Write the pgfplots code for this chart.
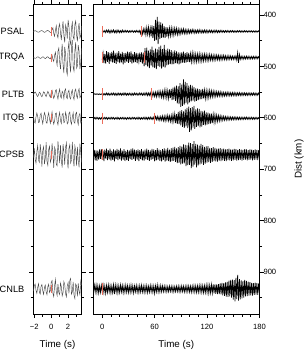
\documentclass[border=0pt]{standalone}
\usepackage{fontspec}
\setmainfont{Liberation Sans}
\usepackage{pgfplots}
\usepackage{pgfplotstable}
\pgfplotsset{compat=1.18}
\definecolor{pick}{RGB}{236,110,92}
\definecolor{wave}{RGB}{72,72,72}

% zoomed windows, -2.1 .. 3.6 s (amplitudes in km about each station's distance)
\pgfplotstableread{
t a b c d e f
-2.1 0.3 -0.5 1.5 -4.5 5.6 4.2
-2.0 -0.8 0.6 -2.8 6.8 -12.4 -6.8
-1.9 -1.5 1.4 -4.2 9.2 8.2 -9.5
-1.8 -0.9 0.9 -1.6 -2.6 16.5 2.5
-1.7 0.4 -0.7 2.4 -10.4 -6.8 8.6
-1.6 1.3 -1.6 4.5 -3.8 -18.2 -3.4
-1.5 1.6 -1.2 1.2 8.5 10.4 -10.2
-1.4 0.8 0.3 -3.6 7.2 14.6 6.4
-1.3 -0.5 1.5 -2.2 -6.4 -20.5 9.8
-1.2 -1.4 1.1 2.8 -9.8 -3.2 -5.2
-1.1 -1.7 -0.4 5.2 2.4 22.8 -8.4
-1.0 -0.6 -1.7 0.8 10.6 -8.6 3.6
-0.9 0.9 -1.0 -4.6 -1.8 -15.4 10.5
-0.8 1.8 0.8 -3.2 -11.2 18.2 -2.8
-0.7 1.2 1.9 1.9 -5.5 6.4 -7.6
-0.6 -0.3 0.6 4.8 7.8 -24.6 5.8
-0.5 -1.6 -1.3 -0.6 9.6 12.5 11.2
-0.4 -2.0 -1.8 -5.4 -4.2 20.4 -4.6
-0.3 -0.8 0.2 -2.5 -10.8 -10.2 -9.2
-0.2 0.7 1.6 3.1 1.6 -16.8 6.8
-0.1 1.9 2.4 6.2 9.8 14.2 3.4
0.0 2.6 -1.8 -2.8 -2.5 8.6 -12.6
0.1 -3.5 -5.2 -7.5 -12.6 -22.2 -16.4
0.2 -6.8 3.6 1.4 3.4 -4.5 8.2
0.3 4.2 7.4 8.2 11.5 25.6 14.8
0.4 9.5 -4.8 3.5 4.8 -14.8 -6.2
0.5 -2.4 -10.6 -6.4 -8.6 -9.2 -18.5
0.6 -11.2 5.2 -8.8 -10.5 18.6 4.8
0.7 6.8 14.8 2.6 6.2 21.4 12.6
0.8 12.4 -12.4 9.4 12.8 -26.2 -9.4
0.9 -8.5 -18.6 -3.2 -3.6 -7.8 7.2
1.0 -14.6 8.4 -9.6 -11.4 16.4 10.8
1.1 3.2 22.5 4.8 5.2 -18.8 -11.6
1.2 16.8 -6.2 7.5 10.2 12.2 -4.2
1.3 -5.4 -26.8 -5.6 -7.4 24.8 13.5
1.4 -19.5 14.5 -2.4 -9.6 -20.6 6.8
1.5 8.6 30.2 8.6 8.4 -5.4 -14.2
1.6 21.2 -20.8 -6.8 6.6 19.2 -8.6
1.7 -12.8 -8.6 -10.2 -11.8 -14.6 9.4
1.8 -6.4 24.7 5.4 -4.5 -23.4 15.2
1.9 14.2 33.5 8.8 10.8 8.8 -5.8
2.0 -22.6 -16.2 -4.2 8.2 26.5 -12.4
2.1 -9.8 -31.4 -7.6 -9.4 -12.2 8.6
2.2 18.5 12.6 6.5 -12.2 -19.6 -16.8
2.3 24.3 28.8 9.2 5.6 15.8 -20.4
2.4 -7.2 -22.4 -3.8 11.6 10.4 10.2
2.5 -17.6 -34.6 -8.4 -2.8 -25.2 5.6
2.6 10.4 18.2 4.6 -10.6 6.2 -13.8
2.7 15.8 26.4 10.5 7.2 22.6 12.4
2.8 -13.5 -14.5 -6.2 9.4 -17.4 18.6
2.9 -20.2 -29.8 -9.8 -8.2 -8.5 -9.6
3.0 6.5 20.6 3.5 -11.5 20.8 -6.2
3.1 19.4 16.2 7.8 4.6 -15.6 14.4
3.2 -4.8 -24.5 -5.4 12.4 11.2 -10.8
3.3 -16.3 -12.8 -10.6 -6.5 24.2 4.6
3.4 12.6 22.4 6.8 -9.2 -21.8 11.2
3.5 8.2 9.6 4.2 8.8 -4.6 -15.8
3.6 -10.5 -18.2 -7.5 5.2 14.8 -7.4
}\zoomtab

\pgfplotstableread[row sep=\\]{t a\\
0 0.5\\1 -1.2\\2 1.5\\3 -1.8\\4 2.2\\5 -2.5\\6 1.4\\7 -2.8\\8 2.6\\9 -1.9\\
10 2.7\\11 -2.2\\12 1.6\\13 -2.9\\14 2.4\\15 -1.5\\16 2.8\\17 -2.6\\18 1.9\\19 -2.3\\
20 2.5\\21 -1.4\\22 2.1\\23 -2.7\\24 1.6\\25 -1.8\\26 1.5\\27 -2.0\\28 1.2\\29 -1.7\\
30 1.9\\31 -1.3\\32 1.6\\33 -1.8\\34 1.1\\35 -1.6\\36 1.8\\37 -1.2\\38 1.5\\39 -1.9\\
40 1.4\\41 -1.6\\42 2.0\\43 -1.8\\44 4.5\\45 -3.8\\46 5.2\\47 -4.6\\48 3.9\\49 -5.5\\
50 6.8\\51 -7.5\\52 5.9\\53 -8.2\\54 7.4\\55 -6.3\\56 9.5\\57 -11.8\\58 13.2\\59 -10.5\\
60 18.5\\61 -22.4\\62 16.8\\63 -28.5\\64 24.6\\65 -19.2\\66 14.8\\67 -17.6\\68 12.5\\69 -15.3\\
70 11.8\\71 -9.6\\72 12.4\\73 -8.5\\74 10.2\\75 -7.8\\76 9.4\\77 -6.5\\78 8.2\\79 -7.1\\
80 6.8\\81 -5.4\\82 7.5\\83 -6.2\\84 5.1\\85 -5.8\\86 6.3\\87 -4.7\\88 5.5\\89 -4.2\\
90 5.0\\91 -4.5\\92 3.8\\93 -4.9\\94 4.2\\95 -3.6\\96 4.4\\97 -3.2\\98 3.9\\99 -3.5\\
100 3.6\\101 -2.9\\102 3.4\\103 -3.8\\104 2.7\\105 -3.2\\106 3.5\\107 -2.6\\108 3.1\\109 -2.8\\
110 2.9\\111 -3.3\\112 2.4\\113 -2.7\\114 3.0\\115 -2.2\\116 2.6\\117 -2.9\\118 2.3\\119 -2.5\\
120 2.8\\121 -2.1\\122 2.4\\123 -2.6\\124 2.0\\125 -2.3\\126 2.5\\127 -1.9\\128 2.2\\129 -2.4\\
130 1.9\\131 -2.2\\132 2.3\\133 -1.7\\134 2.0\\135 -2.1\\136 1.6\\137 -2.0\\138 1.8\\139 -1.5\\
140 1.9\\141 -1.7\\142 1.5\\143 -1.8\\144 1.6\\145 -1.4\\146 1.8\\147 -1.6\\148 1.3\\149 -1.7\\
150 1.5\\151 -1.4\\152 1.7\\153 -1.3\\154 1.6\\155 -1.5\\156 1.2\\157 -1.6\\158 1.4\\159 -1.3\\
160 1.5\\161 -1.2\\162 1.4\\163 -1.5\\164 1.1\\165 -1.3\\166 1.5\\167 -1.2\\168 1.3\\169 -1.4\\
170 1.2\\171 -1.3\\172 1.4\\173 -1.1\\174 1.3\\175 -1.2\\176 1.4\\177 -1.0\\178 1.2\\179 -1.3\\180 0.8\\
}\psal

\pgfplotstableread[row sep=\\]{t a\\
0 4.5\\1 -9.2\\2 10.8\\3 -7.5\\4 11.6\\5 -12.4\\6 8.3\\7 -10.6\\8 12.1\\9 -9.4\\
10 7.8\\11 -11.3\\12 9.6\\13 -13.5\\14 10.2\\15 -8.1\\16 11.9\\17 -9.8\\18 8.7\\19 -12.6\\
20 10.4\\21 -7.9\\22 9.2\\23 -11.0\\24 12.8\\25 -8.6\\26 10.1\\27 -9.3\\28 7.6\\29 -11.7\\
30 9.9\\31 -10.5\\32 8.2\\33 -12.2\\34 11.4\\35 -7.4\\36 9.7\\37 -10.9\\38 8.5\\39 -9.1\\
40 10.6\\41 -8.3\\42 7.9\\43 -9.6\\44 8.8\\45 -10.2\\46 11.5\\47 -9.7\\48 16.8\\49 -18.4\\
50 14.6\\51 -19.5\\52 17.2\\53 -13.8\\54 20.3\\55 -16.1\\56 15.4\\57 -21.6\\58 18.7\\59 -14.2\\
60 19.8\\61 -17.5\\62 22.4\\63 -15.9\\64 16.7\\65 -20.8\\66 18.3\\67 -23.5\\68 21.2\\69 -16.4\\
70 17.9\\71 -24.6\\72 19.5\\73 -15.2\\74 14.8\\75 -17.3\\76 13.6\\77 -16.2\\78 12.4\\79 -14.5\\
80 13.1\\81 -11.6\\82 12.8\\83 -13.9\\84 10.5\\85 -12.2\\86 11.8\\87 -10.1\\88 12.9\\89 -9.8\\
90 11.2\\91 -10.4\\92 9.5\\93 -11.8\\94 10.3\\95 -8.9\\96 9.8\\97 -10.6\\98 8.4\\99 -9.2\\
100 8.8\\101 -7.6\\102 8.3\\103 -9.1\\104 7.2\\105 -8.0\\106 7.7\\107 -6.8\\108 7.9\\109 -7.1\\
110 6.6\\111 -7.4\\112 6.9\\113 -6.2\\114 7.0\\115 -5.8\\116 6.4\\117 -6.7\\118 5.5\\119 -6.1\\
120 5.9\\121 -5.2\\122 5.6\\123 -6.0\\124 4.8\\125 -5.4\\126 5.1\\127 -4.6\\128 5.3\\129 -4.9\\
130 4.4\\131 -4.8\\132 4.2\\133 -4.5\\134 4.7\\135 -3.9\\136 4.3\\137 -4.1\\138 3.8\\139 -4.4\\
140 3.9\\141 -3.6\\142 4.1\\143 -3.4\\144 3.7\\145 -3.8\\146 3.3\\147 -3.5\\148 3.6\\149 -3.1\\
150 3.4\\151 -3.0\\152 3.2\\153 -3.5\\154 4.8\\155 -9.5\\156 10.2\\157 -6.1\\158 3.2\\159 -2.8\\
160 2.9\\161 -2.6\\162 3.0\\163 -2.5\\164 2.7\\165 -2.8\\166 2.4\\167 -2.6\\168 2.5\\169 -2.2\\
170 2.6\\171 -2.3\\172 2.4\\173 -2.5\\174 2.2\\175 -2.4\\176 2.1\\177 -2.3\\178 2.2\\179 -2.0\\180 1.5\\
}\trqa

\pgfplotstableread[row sep=\\]{t a\\
-10 0.4\\-9 -0.7\\-8 0.6\\-7 -0.8\\-6 0.5\\-5 -0.6\\-4 0.8\\-3 -0.5\\-2 0.7\\-1 -0.6\\
0 0.9\\1 -1.4\\2 1.8\\3 -1.2\\4 1.6\\5 -2.1\\6 1.5\\7 -1.7\\8 2.0\\9 -1.3\\
10 1.7\\11 -1.9\\12 1.4\\13 -2.2\\14 1.8\\15 -1.5\\16 2.3\\17 -1.6\\18 1.9\\19 -2.0\\
20 1.5\\21 -1.8\\22 2.1\\23 -1.4\\24 1.7\\25 -2.3\\26 1.6\\27 -1.9\\28 2.2\\29 -1.5\\
30 1.8\\31 -2.0\\32 1.6\\33 -1.7\\34 2.4\\35 -1.5\\36 1.9\\37 -2.1\\38 1.4\\39 -1.8\\
40 2.0\\41 -1.6\\42 1.8\\43 -2.2\\44 1.5\\45 -1.9\\46 2.3\\47 -1.7\\48 2.1\\49 -2.4\\
50 1.9\\51 -2.6\\52 2.8\\53 -2.2\\54 2.5\\55 -3.0\\56 3.8\\57 -3.2\\58 4.1\\59 -3.6\\
60 4.4\\61 -3.9\\62 5.2\\63 -4.6\\64 4.0\\65 -5.5\\66 4.8\\67 -5.1\\68 6.2\\69 -5.4\\
70 6.8\\71 -7.5\\72 5.9\\73 -8.1\\74 7.2\\75 -6.6\\76 8.4\\77 -9.2\\78 7.8\\79 -10.1\\
80 11.5\\81 -12.8\\82 10.4\\83 -14.6\\84 13.2\\85 -16.5\\86 17.8\\87 -15.2\\88 19.6\\89 -21.4\\
90 24.5\\91 -18.6\\92 22.8\\93 -28.7\\94 20.4\\95 -23.6\\96 17.5\\97 -21.2\\98 19.8\\99 -16.4\\
100 15.8\\101 -17.9\\102 14.2\\103 -16.6\\104 12.5\\105 -13.8\\106 14.6\\107 -11.2\\108 12.9\\109 -10.6\\
110 11.4\\111 -9.5\\112 10.2\\113 -8.8\\114 9.6\\115 -10.4\\116 8.2\\117 -7.9\\118 8.7\\119 -7.1\\
120 7.6\\121 -6.5\\122 6.9\\123 -7.2\\124 5.8\\125 -6.3\\126 5.4\\127 -5.9\\128 4.8\\129 -5.2\\
130 4.6\\131 -4.9\\132 4.2\\133 -4.4\\134 3.9\\135 -4.5\\136 3.7\\137 -3.8\\138 4.1\\139 -3.4\\
140 3.6\\141 -3.3\\142 3.5\\143 -3.8\\144 3.0\\145 -3.4\\146 3.2\\147 -2.9\\148 3.3\\149 -3.1\\
150 2.8\\151 -3.2\\152 2.9\\153 -2.6\\154 3.0\\155 -2.7\\156 2.5\\157 -2.9\\158 2.6\\159 -2.4\\
160 2.7\\161 -2.5\\162 2.3\\163 -2.6\\164 2.4\\165 -2.2\\166 2.5\\167 -2.3\\168 2.1\\169 -2.4\\
170 2.3\\171 -2.0\\172 2.2\\173 -2.4\\174 2.0\\175 -2.1\\176 2.3\\177 -1.9\\178 2.1\\179 -2.2\\180 1.6\\
}\pltb

\pgfplotstableread[row sep=\\]{t a\\
-10 1.2\\-9 -1.6\\-8 1.4\\-7 -1.9\\-6 1.1\\-5 -1.5\\-4 1.8\\-3 -1.3\\-2 1.6\\-1 -1.4\\
0 1.7\\1 -1.2\\2 1.5\\3 -1.8\\4 1.3\\5 -1.6\\6 2.0\\7 -1.4\\8 1.2\\9 -1.7\\
10 1.5\\11 -1.9\\12 1.3\\13 -1.6\\14 1.8\\15 -1.1\\16 1.4\\17 -2.1\\18 1.6\\19 -1.3\\
20 1.9\\21 -1.5\\22 1.2\\23 -1.7\\24 1.4\\25 -1.8\\26 1.6\\27 -1.2\\28 2.2\\29 -1.5\\
30 1.3\\31 -1.6\\32 1.8\\33 -1.4\\34 1.5\\35 -1.9\\36 1.2\\37 -1.6\\38 1.7\\39 -1.3\\
40 1.6\\41 -2.0\\42 1.4\\43 -1.5\\44 1.9\\45 -1.3\\46 1.7\\47 -1.8\\48 1.5\\49 -2.1\\
50 1.8\\51 -1.6\\52 2.2\\53 -1.9\\54 1.7\\55 -2.3\\56 2.0\\57 -1.8\\58 2.4\\59 -2.1\\
60 2.9\\61 -3.4\\62 2.6\\63 -3.8\\64 3.2\\65 -2.8\\66 4.1\\67 -3.5\\68 3.7\\69 -4.4\\
70 4.8\\71 -4.0\\72 5.3\\73 -4.6\\74 4.2\\75 -5.7\\76 5.0\\77 -4.5\\78 6.2\\79 -5.4\\
80 6.8\\81 -7.4\\82 6.1\\83 -8.5\\84 9.2\\85 -8.0\\86 10.6\\87 -12.4\\88 11.5\\89 -14.2\\
90 13.6\\91 -15.8\\92 16.4\\93 -13.2\\94 18.5\\95 -17.2\\96 15.6\\97 -20.4\\98 19.2\\99 -22.8\\
100 26.5\\101 -19.8\\102 23.4\\103 -21.6\\104 18.2\\105 -24.1\\106 20.6\\107 -17.4\\108 16.8\\109 -19.5\\
110 15.4\\111 -18.2\\112 17.6\\113 -14.3\\114 16.2\\115 -13.5\\116 12.8\\117 -15.1\\118 13.6\\119 -11.7\\
120 12.2\\121 -10.8\\122 11.3\\123 -9.6\\124 10.4\\125 -8.9\\126 9.2\\127 -7.8\\128 8.1\\129 -7.2\\
130 6.8\\131 -6.2\\132 5.9\\133 -5.4\\134 5.1\\135 -4.8\\136 4.5\\137 -4.2\\138 4.0\\139 -3.8\\
140 3.6\\141 -3.4\\142 3.5\\143 -3.1\\144 3.3\\145 -2.9\\146 3.2\\147 -2.8\\148 3.0\\149 -2.6\\
150 2.8\\151 -2.5\\152 2.7\\153 -2.4\\154 2.6\\155 -2.3\\156 2.5\\157 -2.2\\158 2.4\\159 -2.1\\
160 2.3\\161 -2.0\\162 2.2\\163 -2.1\\164 1.9\\165 -2.2\\166 2.0\\167 -1.8\\168 2.1\\169 -1.9\\
170 1.8\\171 -2.0\\172 1.9\\173 -1.7\\174 2.0\\175 -1.8\\176 1.6\\177 -1.9\\178 1.7\\179 -1.5\\180 1.2\\
}\itqb

\pgfplotstableread[row sep=\\]{t a\\
-10 7.2\\-9 -9.5\\-8 10.8\\-7 -8.4\\-6 11.6\\-5 -7.9\\-4 9.3\\-3 -10.6\\-2 8.1\\-1 -11.2\\
0 9.7\\1 -8.3\\2 12.4\\3 -10.1\\4 7.6\\5 -11.8\\6 10.5\\7 -9.2\\8 8.8\\9 -12.1\\
10 11.3\\11 -7.5\\12 9.8\\13 -10.4\\14 12.6\\15 -8.7\\16 7.9\\17 -11.5\\18 10.2\\19 -9.6\\
20 8.4\\21 -12.3\\22 11.1\\23 -8.0\\24 9.5\\25 -10.9\\26 12.0\\27 -7.7\\28 10.3\\29 -9.4\\
30 11.7\\31 -8.6\\32 8.2\\33 -11.4\\34 9.9\\35 -12.5\\36 7.8\\37 -10.0\\38 11.9\\39 -8.9\\
40 9.1\\41 -10.7\\42 12.2\\43 -9.0\\44 8.5\\45 -11.1\\46 10.6\\47 -8.2\\48 11.4\\49 -9.8\\
50 8.7\\51 -12.0\\52 10.0\\53 -9.3\\54 11.8\\55 -8.5\\56 9.6\\57 -11.7\\58 8.3\\59 -10.4\\
60 12.5\\61 -9.1\\62 10.8\\63 -12.8\\64 9.4\\65 -10.2\\66 11.6\\67 -8.8\\68 12.9\\69 -11.0\\
70 9.8\\71 -12.4\\72 13.2\\73 -10.6\\74 11.2\\75 -13.5\\76 12.1\\77 -9.9\\78 13.8\\79 -12.7\\
80 12.4\\81 -14.1\\82 11.6\\83 -15.2\\84 13.9\\85 -12.5\\86 16.3\\87 -14.8\\88 15.7\\89 -17.4\\
90 18.6\\91 -15.9\\92 17.2\\93 -20.4\\94 16.5\\95 -19.3\\96 21.8\\97 -18.1\\98 20.2\\99 -23.6\\
100 19.4\\101 -22.5\\102 25.8\\103 -20.7\\104 23.1\\105 -26.4\\106 18.9\\107 -21.3\\108 24.2\\109 -19.6\\
110 20.5\\111 -17.8\\112 18.4\\113 -21.2\\114 16.9\\115 -18.7\\116 19.5\\117 -15.6\\118 17.1\\119 -16.3\\
120 15.2\\121 -16.8\\122 14.1\\123 -13.5\\124 15.6\\125 -12.9\\126 13.8\\127 -14.7\\128 12.4\\129 -13.6\\
130 12.8\\131 -11.9\\132 13.4\\133 -12.2\\134 11.5\\135 -12.7\\136 12.1\\137 -11.3\\138 10.9\\139 -12.0\\
140 11.6\\141 -10.5\\142 12.3\\143 -11.1\\144 10.2\\145 -11.8\\146 11.0\\147 -10.4\\148 11.7\\149 -9.8\\
150 10.6\\151 -11.3\\152 9.7\\153 -10.8\\154 11.4\\155 -9.5\\156 10.3\\157 -11.0\\158 9.6\\159 -10.1\\
160 11.2\\161 -9.4\\162 10.0\\163 -10.9\\164 9.3\\165 -10.4\\166 10.8\\167 -9.1\\168 9.9\\169 -10.6\\
170 9.5\\171 -10.2\\172 10.7\\173 -9.0\\174 9.8\\175 -10.5\\176 9.2\\177 -9.7\\178 10.1\\179 -8.8\\180 7.5\\
}\cpsb

\pgfplotstableread[row sep=\\]{t a\\
-10 6.2\\-9 -7.4\\-8 5.8\\-7 -8.1\\-6 7.0\\-5 -6.5\\-4 7.8\\-3 -5.9\\-2 6.7\\-1 -7.2\\
0 5.5\\1 -8.0\\2 7.3\\3 -6.1\\4 8.4\\5 -7.0\\6 6.6\\7 -7.9\\8 5.9\\9 -6.8\\
10 7.6\\11 -5.7\\12 6.9\\13 -8.2\\14 9.8\\15 -7.4\\16 6.3\\17 -7.1\\18 7.9\\19 -6.0\\
20 6.8\\21 -7.7\\22 5.6\\23 -6.9\\24 7.4\\25 -5.8\\26 6.5\\27 -7.3\\28 6.1\\29 -6.6\\
30 7.1\\31 -5.9\\32 6.4\\33 -7.5\\34 5.7\\35 -6.2\\36 7.7\\37 -6.0\\38 5.4\\39 -6.9\\
40 6.3\\41 -5.5\\42 6.9\\43 -6.4\\44 5.8\\45 -7.2\\46 6.0\\47 -5.6\\48 6.7\\49 -6.1\\
50 5.9\\51 -6.6\\52 7.0\\53 -5.3\\54 6.2\\55 -6.8\\56 5.5\\57 -6.0\\58 6.4\\59 -5.7\\
60 8.6\\61 -6.3\\62 5.6\\63 -7.8\\64 6.1\\65 -5.2\\66 5.8\\67 -6.5\\68 5.3\\69 -5.9\\
70 5.0\\71 -5.6\\72 4.8\\73 -5.3\\74 5.5\\75 -4.6\\76 5.1\\77 -5.4\\78 4.7\\79 -5.0\\
80 5.2\\81 -4.9\\82 5.6\\83 -4.5\\84 5.0\\85 -5.3\\86 4.8\\87 -5.5\\88 5.4\\89 -4.7\\
90 5.3\\91 -5.8\\92 4.9\\93 -5.2\\94 5.7\\95 -5.0\\96 5.5\\97 -6.0\\98 5.1\\99 -5.6\\
100 5.8\\101 -5.4\\102 6.2\\103 -5.7\\104 5.5\\105 -6.4\\106 6.0\\107 -5.9\\108 6.6\\109 -6.1\\
110 6.3\\111 -6.8\\112 5.9\\113 -7.0\\114 6.7\\115 -6.2\\116 7.2\\117 -6.5\\118 6.9\\119 -7.4\\
120 7.1\\121 -7.8\\122 8.2\\123 -7.0\\124 7.6\\125 -8.5\\126 7.9\\127 -8.8\\128 8.4\\129 -9.1\\
130 9.5\\131 -8.7\\132 10.2\\133 -9.4\\134 9.8\\135 -11.0\\136 10.6\\137 -11.8\\138 12.2\\139 -11.4\\
140 13.5\\141 -12.6\\142 14.8\\143 -13.9\\144 15.5\\145 -16.2\\146 14.4\\147 -17.6\\148 16.8\\149 -18.3\\
150 20.5\\151 -17.4\\152 24.2\\153 -21.6\\154 19.8\\155 -27.5\\156 22.6\\157 -18.9\\158 20.4\\159 -16.7\\
160 18.2\\161 -15.4\\162 16.9\\163 -17.5\\164 14.6\\165 -15.8\\166 13.9\\167 -14.2\\168 12.7\\169 -13.5\\
170 12.4\\171 -11.8\\172 12.9\\173 -11.2\\174 11.6\\175 -12.3\\176 10.8\\177 -11.5\\178 11.2\\179 -10.6\\180 8.0\\
}\cnlb

\pgfplotsset{
  sg/.style={
    scale only axis, anchor=south west, height=309.5pt,
    ymin=379.6, ymax=981.7, y dir=reverse,
    axis line style={line width=0.75pt},
    tick style={line width=0.6pt, black},
    tick align=outside,
    major tick length=4pt, minor tick length=2.5pt,
    ytick={400,500,600,700,800,900},
    minor ytick={450,550,650,750,850,950},
    /pgf/number format/assume math mode=true,
    ticklabel style={font=\fontsize{7.6}{9}\selectfont},
    xticklabel style={yshift=-3pt},
    yticklabel style={xshift=-3.5pt},
    label style={font=\fontsize{9.8}{11}\selectfont},
    xlabel style={at={(axis description cs:0.5,-0.1076)}, anchor=base},
    clip=false,
  },
}
\tikzset{stn/.style={anchor=east, font=\fontsize{9.2}{11}\selectfont, xshift=-5.5pt}}

\begin{document}
\begin{tikzpicture}
\useasboundingbox (0,0) rectangle (306pt,352pt);

% left panel: zoom on the first arrival
\begin{axis}[sg, at={(33.3pt,38pt)}, width=48.4pt,
  xmin=-2.12, xmax=3.61,
  xtick={-2,0,2}, xticklabels={−2,0,2}, minor xtick={-1,1,3},
  yticklabel=\empty,
  xlabel={Time (s)}]
\addplot[wave, line width=0.45pt] table[x=t, y expr=\thisrow{a}+432] {\zoomtab};
\addplot[wave, line width=0.45pt] table[x=t, y expr=\thisrow{b}+483] {\zoomtab};
\addplot[wave, line width=0.45pt] table[x=t, y expr=\thisrow{c}+554] {\zoomtab};
\addplot[wave, line width=0.45pt] table[x=t, y expr=\thisrow{d}+601] {\zoomtab};
\addplot[wave, line width=0.45pt] table[x=t, y expr=\thisrow{e}+672] {\zoomtab};
\addplot[wave, line width=0.45pt] table[x=t, y expr=\thisrow{f}+933] {\zoomtab};
\addplot[pick, line width=0.4pt] coordinates {(0,424) (0,440)};
\addplot[pick, line width=0.4pt] coordinates {(0,475) (0,491)};
\addplot[pick, line width=0.4pt] coordinates {(0,546) (0,562)};
\addplot[pick, line width=0.4pt] coordinates {(0,593) (0,609)};
\addplot[pick, line width=0.4pt] coordinates {(0,664) (0,680)};
\addplot[pick, line width=0.4pt] coordinates {(0,925) (0,941)};
\node[stn] at (axis cs:-2.12,432) {PSAL};
\node[stn] at (axis cs:-2.12,483) {TRQA};
\node[stn] at (axis cs:-2.12,554) {PLTB};
\node[stn] at (axis cs:-2.12,601) {ITQB};
\node[stn] at (axis cs:-2.12,672) {CPSB};
\node[stn] at (axis cs:-2.12,933) {CNLB};
\end{axis}

% right panel: full records
\begin{axis}[sg, at={(93pt,38pt)}, width=166.5pt,
  xmin=-10.5, xmax=180,
  xtick={0,60,120,180},
  minor xtick={10,20,30,40,50,70,80,90,100,110,130,140,150,160,170},
  yticklabel pos=right,
  xlabel={Time (s)},
  ylabel={Dist (km)},
  ylabel style={at={(axis description cs:1.2523,0.5)}, anchor=base}]
\addplot[black, line width=0.7pt] table[x=t, y expr=\thisrow{a}+432] {\psal};
\addplot[black, line width=0.7pt] table[x=t, y expr=\thisrow{a}+483] {\trqa};
\addplot[black, line width=0.7pt] table[x=t, y expr=\thisrow{a}+554] {\pltb};
\addplot[black, line width=0.7pt] table[x=t, y expr=\thisrow{a}+601] {\itqb};
\addplot[black, line width=0.7pt] table[x=t, y expr=\thisrow{a}+672] {\cpsb};
\addplot[black, line width=0.7pt] table[x=t, y expr=\thisrow{a}+933] {\cnlb};
\addplot[pick, line width=0.4pt] coordinates {(0,421) (0,443)};
\addplot[pick, line width=0.4pt] coordinates {(44.7,421) (44.7,443)};
\addplot[pick, line width=0.4pt] coordinates {(0,472) (0,494)};
\addplot[pick, line width=0.4pt] coordinates {(48.6,472) (48.6,494)};
\addplot[pick, line width=0.4pt] coordinates {(0,543) (0,565)};
\addplot[pick, line width=0.4pt] coordinates {(56.2,543) (56.2,565)};
\addplot[pick, line width=0.4pt] coordinates {(0,590) (0,612)};
\addplot[pick, line width=0.4pt] coordinates {(59.3,590) (59.3,612)};
\addplot[pick, line width=0.4pt] coordinates {(0,661) (0,683)};
\addplot[pick, line width=0.4pt] coordinates {(0,922) (0,944)};
\end{axis}
\end{tikzpicture}
\end{document}
